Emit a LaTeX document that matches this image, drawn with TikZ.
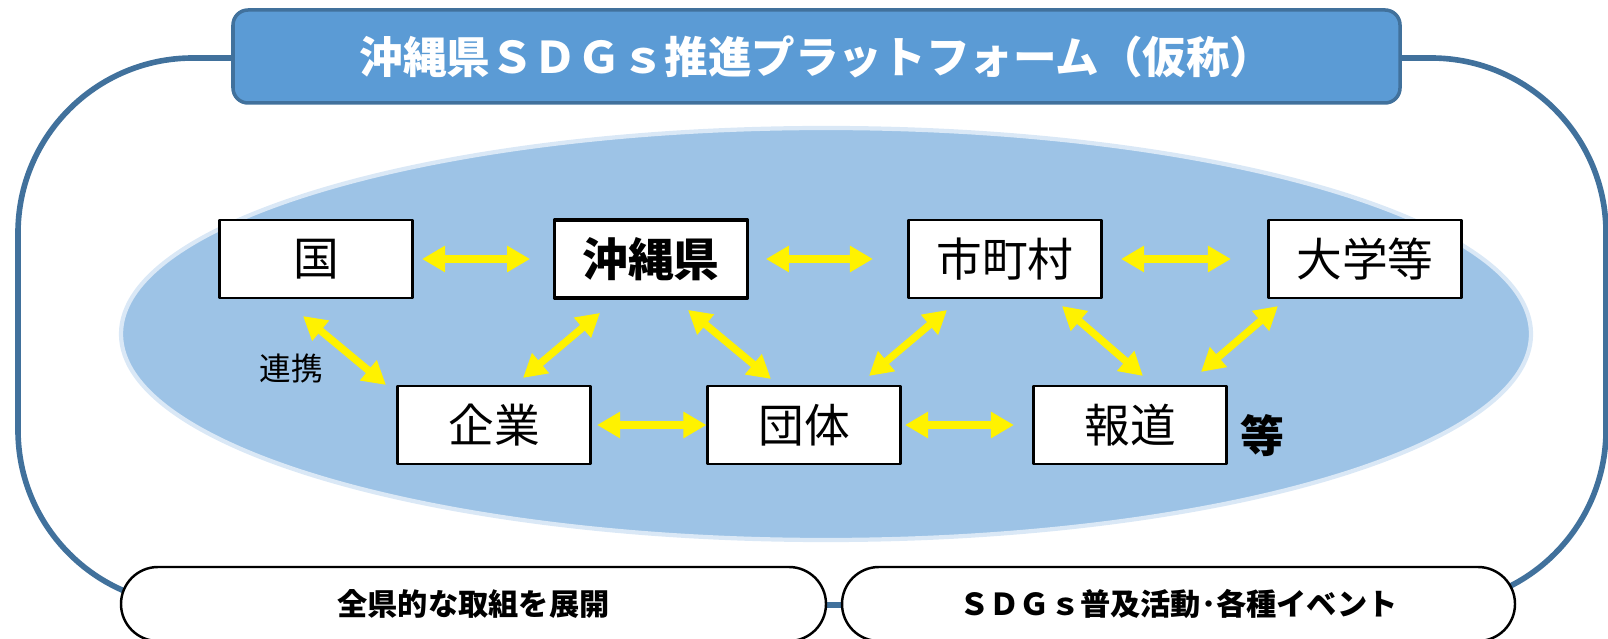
\documentclass[tikz,border=0pt]{standalone}
\usepackage{fontspec}
\setmainfont{Noto Sans CJK JP}
\usetikzlibrary{arrows.meta}
\definecolor{frameblue}{HTML}{41719C}
\definecolor{titleblue}{HTML}{5B9BD5}
\definecolor{ovalblue}{HTML}{9DC3E6}
\definecolor{ovaledge}{HTML}{DAE8F6}
\begin{document}
\begin{tikzpicture}[line cap=round, line join=round, font=\fontsize{13}{15}\selectfont, >={Triangle[length=2.3mm,width=2.5mm]}]
	\tikzset{member/.style={draw, line width=0.6pt, fill=white, minimum width=1.93cm, minimum height=0.78cm, inner sep=0pt},
		link/.style={<->, yellow, line width=2.1pt, line cap=butt},
		pill/.style={draw, line width=0.7pt, fill=white, rounded corners=0.37cm, minimum width=#1, minimum height=0.74cm, inner sep=0pt, font=\fontsize{8.6}{10}\selectfont\bfseries}}
	\useasboundingbox (0,0) rectangle (16.08,6.38);
	\draw[frameblue, line width=1.6pt, rounded corners=1.75cm] (0.18,0.33) rectangle (16.06,5.80);
	\node[draw=frameblue, fill=titleblue, line width=1pt, rounded corners=0.15cm, minimum width=11.67cm, minimum height=0.93cm, text=white, font=\fontsize{12.4}{14}\selectfont\bfseries] (title) at (8.165,5.815) {沖縄県ＳＤＧｓ推進プラットフォーム（仮称）};
	\draw[ovaledge, fill=ovalblue, line width=1.2pt] (8.26,3.04) ellipse (7.05cm and 2.06cm);
	% members
	\node[member] (guo) at (3.16,3.79) {国};
	\node[member, line width=1.1pt, font=\fontsize{13}{15}\selectfont\bfseries] (pref) at (6.51,3.79) {沖縄県};
	\node[member] (shicho) at (10.05,3.79) {市町村};
	\node[member] (daigaku) at (13.65,3.79) {大学等};
	\node[member] (kigyo) at (4.94,2.13) {企業};
	\node[member] (dantai) at (8.04,2.13) {団体};
	\node[member] (hodo) at (11.30,2.13) {報道};
	\node[font=\fontsize{9}{11}\selectfont] (renkei) at (2.91,2.69) {連携};
	\node[font=\fontsize{12.5}{14}\selectfont\bfseries] (nado) at (12.62,2.02) {等};
	% links
	\draw[link] ([xshift=0.85mm]guo.east) -- ([xshift=-2.25mm]pref.west);
	\draw[link] ([xshift=1.65mm]pref.east) -- ([xshift=-3.45mm]shicho.west);
	\draw[link] ([xshift=1.85mm]shicho.east) -- ([xshift=-3.65mm]daigaku.west);
	\draw[link] ([xshift=0.55mm]kigyo.east) -- (dantai.west);
	\draw[link] ([xshift=0.35mm]dantai.east) -- ([xshift=-1.85mm]hodo.west);
	\draw[link] ([xshift=-1.3mm,yshift=-1.7mm]guo.south) -- ([xshift=-10.8mm]kigyo.north);
	\draw[link] ([xshift=-5.1mm,yshift=-1.3mm]pref.south) -- ([xshift=2.9mm,yshift=0.7mm]kigyo.north);
	\draw[link] ([xshift=3.7mm,yshift=-1mm]pref.south) -- ([xshift=-3.3mm,yshift=0.6mm]dantai.north);
	\draw[link] ([xshift=-5.8mm,yshift=-1.1mm]shicho.south) -- ([xshift=6.5mm,yshift=0.9mm]dantai.north);
	\draw[link] ([xshift=5.7mm,yshift=-0.7mm]shicho.south) -- ([xshift=1.3mm,yshift=0.9mm]hodo.north);
	\draw[link] ([xshift=-8.7mm,yshift=-0.7mm]daigaku.south) -- ([xshift=7.1mm,yshift=1.3mm]hodo.north);
	% bottom
	\node[pill=7.05cm] (zenken) at (4.735,0.34) {全県的な取組を展開};
	\node[pill=6.73cm] (fukyu) at (11.785,0.34) {ＳＤＧｓ普及活動･各種イベント};
\end{tikzpicture}
\end{document}
